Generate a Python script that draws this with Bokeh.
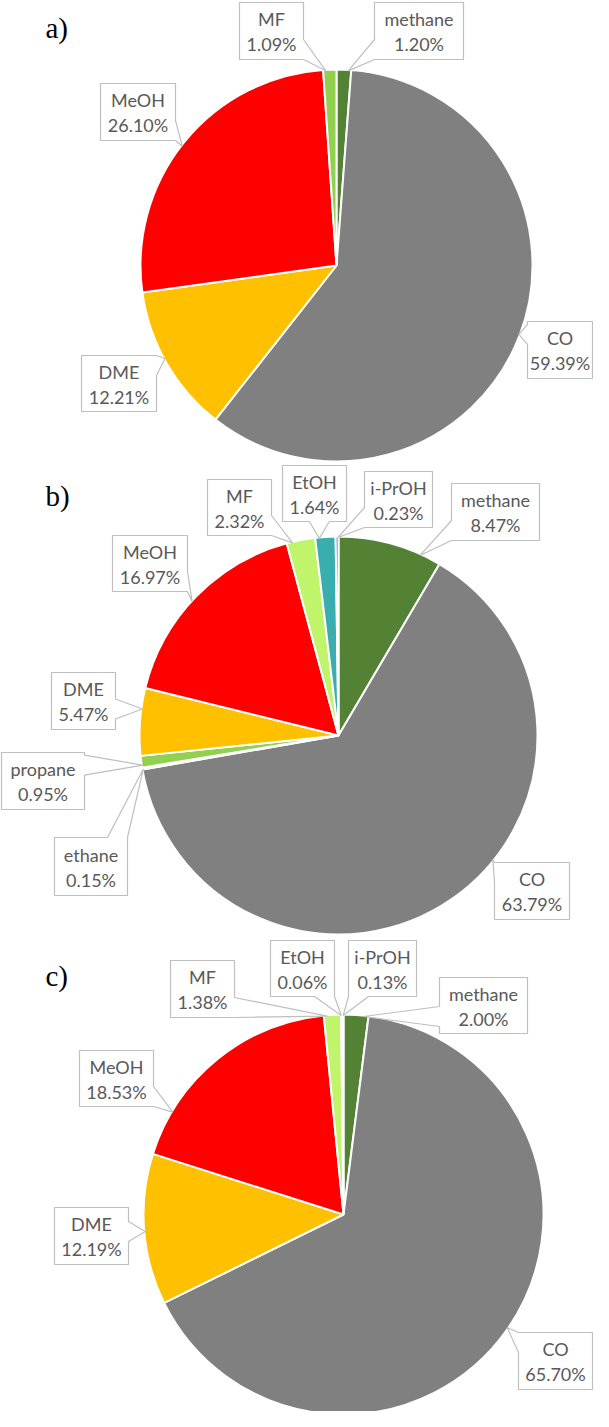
import numpy as np
from bokeh.plotting import figure
from bokeh.models import Range1d, ColumnDataSource
from bokeh.embed import file_html
from bokeh.resources import INLINE
from bokeh.core.properties import value

# ---------------- data ----------------
a_names = ["methane", "CO", "DME", "MeOH", "MF"]
a_values = [1.20, 59.39, 12.21, 26.10, 1.09]
a_colors = ["#548235", "#808080", "#FFC000", "#FF0000", "#92D050"]

b_names = ["methane", "CO", "ethane", "propane", "DME", "MeOH", "MF", "EtOH", "i-PrOH"]
b_values = [8.47, 63.79, 0.15, 0.95, 5.47, 16.97, 2.32, 1.64, 0.23]
b_colors = ["#548235", "#808080", "#5B9BD5", "#92D050", "#FFC000", "#FF0000", "#C0F46A", "#3AAEAE", "#4472C4"]

c_names = ["methane", "CO", "DME", "MeOH", "MF", "EtOH", "i-PrOH"]
c_values = [2.00, 65.70, 12.19, 18.53, 1.38, 0.06, 0.13]
c_colors = ["#548235", "#808080", "#FFC000", "#FF0000", "#C0F46A", "#3AAEAE", "#4472C4"]

panel_titles = ["a)", "b)", "c)"]

# ---------------- layout (page pixel coordinates) ----------------
W, H = 593, 1411
OX, OY = 12, 12  # page offset of the drawing area

pies = [
    dict(title="a)", names=a_names, values=a_values, colors=a_colors,
         cx=348, cy=277, r=196, ty=39,
         boxes={"MF": (251, 14, 315, 71, "right"),
                "methane": (386, 14, 475, 71, "left"),
                "MeOH": (112, 95, 187, 152, "right"),
                "DME": (93, 367, 168, 423, "right"),
                "CO": (539, 333, 604, 390, "left")}),
    dict(title="b)", names=b_names, values=b_values, colors=b_colors,
         cx=350, cy=747, r=199, ty=507,
         boxes={"MF": (219, 491, 283, 547, "right"),
                "EtOH": (294, 477, 358, 533, "bottom"),
                "i-PrOH": (376, 483, 444, 539, "left"),
                "methane": (463, 495, 551, 552, "left"),
                "MeOH": (124, 547, 199, 603, "right"),
                "DME": (63, 684, 127, 741, "right"),
                "propane": (13, 764, 96, 821, "right"),
                "ethane": (66, 849, 139, 907, "top"),
                "CO": (506, 874, 581, 931, "left")}),
    dict(title="c)", names=c_names, values=c_values, colors=c_colors,
         cx=355, cy=1226, r=200, ty=987,
         boxes={"MF": (182, 972, 246, 1029, "right"),
                "EtOH": (282, 952, 346, 1008, "bottom"),
                "i-PrOH": (360, 952, 428, 1008, "bottom"),
                "methane": (451, 989, 539, 1045, "left"),
                "MeOH": (91, 1062, 165, 1118, "right"),
                "DME": (66, 1219, 140, 1276, "right"),
                "CO": (530, 1344, 604, 1401, "left")}),
]

p = figure(width=W, height=H, output_backend="svg", toolbar_location=None,
           x_range=Range1d(OX, OX + W), y_range=Range1d(-(OY + H), -OY),
           min_border=0)
p.axis.visible = False
p.grid.visible = False
p.outline_line_color = None
p.background_fill_color = "white"
p.border_fill_color = "white"

TEXT_COLOR = "#595959"
BOX_COLOR = "#BFBFBF"


def callout(x0, y0, x1, y1, side, tx, ty, bw=20):
    if side in ("left", "right"):
        c = min(max(ty, y0 + bw / 2), y1 - bw / 2)
    else:
        c = min(max(tx, x0 + bw / 2), x1 - bw / 2)
    b1, b2 = c - bw / 2, c + bw / 2
    pts = [(x0, y0)]
    if side == "top":
        pts += [(b1, y0), (tx, ty), (b2, y0)]
    pts.append((x1, y0))
    if side == "right":
        pts += [(x1, b1), (tx, ty), (x1, b2)]
    pts.append((x1, y1))
    if side == "bottom":
        pts += [(b2, y1), (tx, ty), (b1, y1)]
    pts.append((x0, y1))
    if side == "left":
        pts += [(x0, b2), (tx, ty), (x0, b1)]
    return [q[0] for q in pts], [-q[1] for q in pts]


for pie in pies:
    vals = np.array(pie["values"], dtype=float)
    frac = vals / vals.sum()
    cum = np.concatenate([[0.0], np.cumsum(frac)])
    start = np.pi / 2 - 2 * np.pi * cum[:-1]
    end = np.pi / 2 - 2 * np.pi * cum[1:]
    src = ColumnDataSource(dict(start=start, end=end, color=pie["colors"],
                                name=pie["names"]))
    p.wedge(x=pie["cx"], y=-pie["cy"], radius=pie["r"], start_angle="start",
            end_angle="end", direction="clock", fill_color="color",
            line_color="white", line_width=2, source=src)

    # callouts
    xs, ys, t1x, t1y, t1, t2y, t2 = [], [], [], [], [], [], []
    for i, nm in enumerate(pie["names"]):
        if nm not in pie["boxes"]:
            continue
        x0, y0, x1, y1, side = pie["boxes"][nm]
        a0 = 360 * cum[i]
        a1 = 360 * cum[i + 1]
        span = a1 - a0
        mid = (a0 + a1) / 2
        bx, by = (x0 + x1) / 2, (y0 + y1) / 2
        ang = np.degrees(np.arctan2(bx - pie["cx"], pie["cy"] - by)) % 360
        # pick representation of angle closest to mid
        cands = [ang - 360, ang, ang + 360]
        ang = min(cands, key=lambda t: abs(t - mid))
        ang = min(max(ang, mid - 0.3 * span), mid + 0.3 * span)
        rt = pie["r"] - 1
        tx = pie["cx"] + rt * np.sin(np.radians(ang))
        ty = pie["cy"] - rt * np.cos(np.radians(ang))
        px, py = callout(x0, y0, x1, y1, side, tx, ty)
        xs.append(px)
        ys.append(py)
        t1x.append(bx)
        t1y.append(-(by - 12))
        t2y.append(-(by + 13))
        t1.append(nm)
        t2.append(f"{pie['values'][i]:.2f}%")
    p.patches(xs, ys, fill_color="white", line_color=BOX_COLOR, line_width=1.2)
    p.text(x=t1x, y=t1y, text=t1, text_font=value("Lato"), text_font_size="18px",
           text_color=TEXT_COLOR, text_align="center", text_baseline="middle")
    p.text(x=t1x, y=t2y, text=t2, text_font=value("Lato"), text_font_size="18px",
           text_color=TEXT_COLOR, text_align="center", text_baseline="middle")

    p.text(x=[57], y=[-pie["ty"]], text=[pie["title"]],
           text_font=value("Liberation Serif"), text_font_size="29px",
           text_color="black", text_align="left", text_baseline="alphabetic")

open("out.html", "w").write(file_html(p, INLINE))
